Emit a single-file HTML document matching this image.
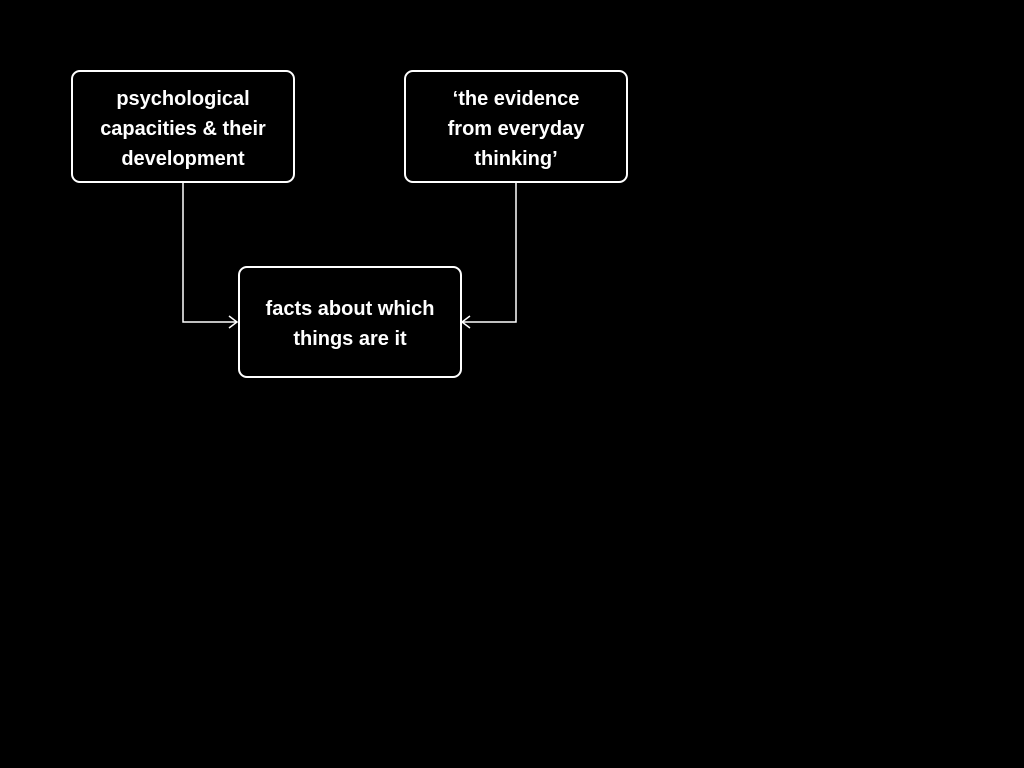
<!DOCTYPE html>
<html><head><style>
html,body{margin:0;padding:0;background:#000;width:1024px;height:768px;overflow:hidden}
.b{position:absolute;border:2px solid #fff;border-radius:9px;box-sizing:border-box;color:#fff;
font-family:"Liberation Sans",sans-serif;font-size:20px;font-weight:bold;line-height:30px;text-align:center;
display:flex;align-items:center;justify-content:center;padding-top:4px}
</style></head><body>
<svg width="1024" height="768" style="position:absolute;left:0;top:0">
<g stroke="#fff" stroke-width="1.5" fill="none">
<polyline points="183,182 183,322 237,322"/>
<polyline points="229,316 237,322 229,328"/>
<polyline points="516,182 516,322 462,322"/>
<polyline points="470,316 462,322 470,328"/>
</g></svg>
<div class="b" style="left:71px;top:70px;width:224px;height:113px">psychological<br>capacities &amp; their<br>development</div>
<div class="b" style="left:404px;top:70px;width:224px;height:113px">‘the evidence<br>from everyday<br>thinking’</div>
<div class="b" style="left:238px;top:266px;width:224px;height:112px">facts about which<br>things are it</div>
</body></html>
